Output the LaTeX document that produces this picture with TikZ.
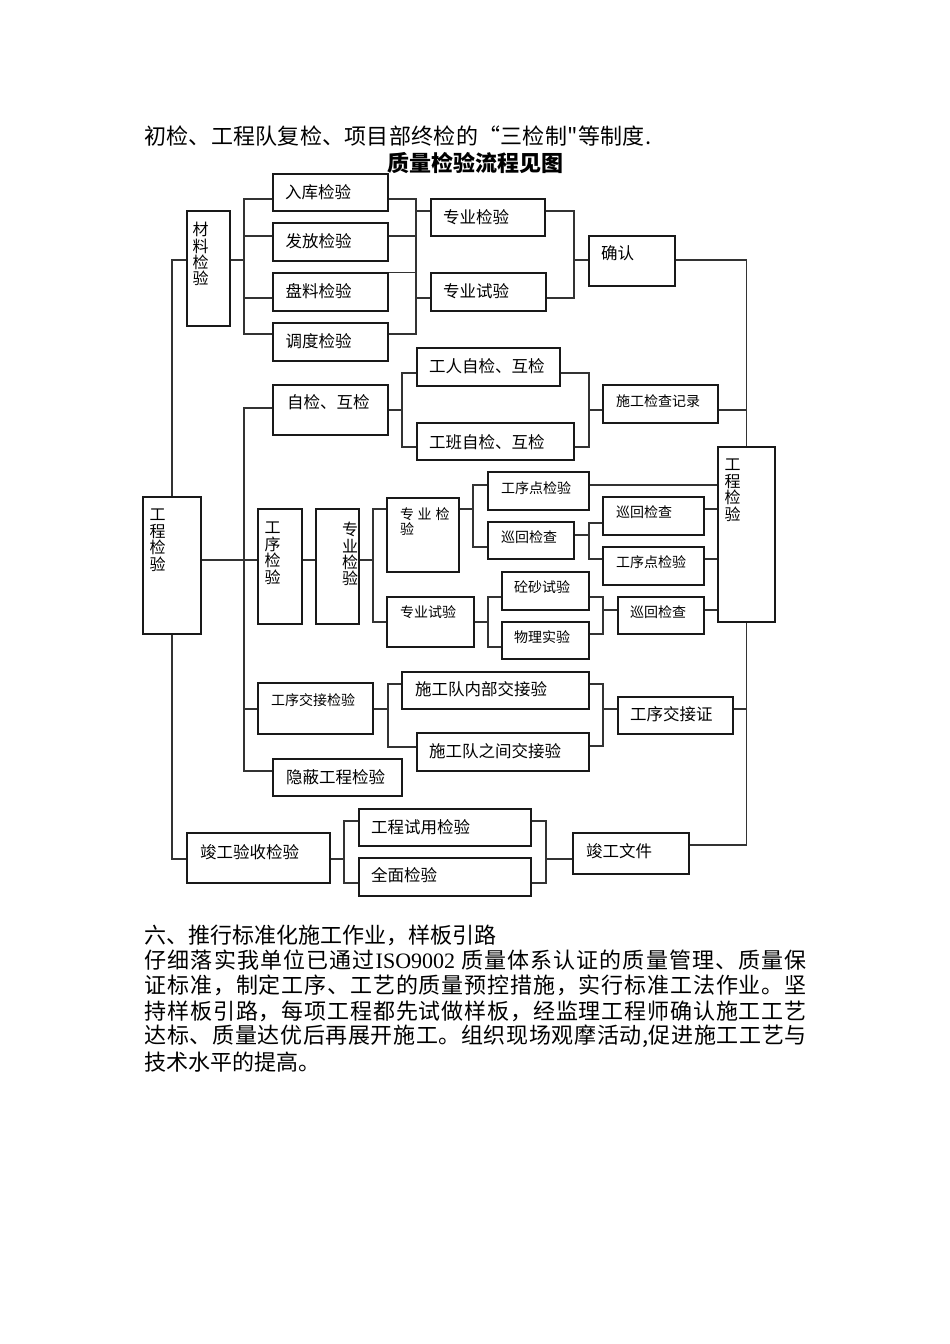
\documentclass[tikz,border=0pt]{standalone}
\usepackage{fontspec}
\setmainfont{Liberation Serif}
\newfontfamily\cjk{Noto Sans CJK SC}
\usetikzlibrary{fit}
\def\spreadend{spreadend-marker}
\def\isotext{{\rmfamily ISO9002}\hskip 5pt}
\def\spreaditer#1{\ifx\spreadend#1\unskip\else#1\hskip0pt plus 1fil\expandafter\spreaditer\fi}
\begin{document}
\begin{tikzpicture}[x=1pt,y=-1pt,
  box/.style={draw=black!90, line width=1.5pt, inner sep=0pt},
  conn/.style={draw=black!80, line width=1.2pt},
  lbl/.style={anchor=west, inner sep=0pt, font=\cjk\fontsize{16.5}{18}\selectfont},
  slbl/.style={anchor=west, inner sep=0pt, font=\cjk\fontsize{14}{16}\selectfont},
  vlbl/.style={anchor=north, inner sep=0pt, align=center, font=\cjk\fontsize{16}{16.4}\selectfont},
  body/.style={anchor=west, inner sep=0pt, font=\cjk\fontsize{22}{25.4}\selectfont}]
\fill[white] (0,0) rectangle (950,1344);
\useasboundingbox (0,0) rectangle (950,1344);

% bus coordinates
\coordinate (bA) at (244,0);
\coordinate (bB) at (416,0);
\coordinate (bC) at (574,0);
\coordinate (bD) at (402,0);
\coordinate (bE) at (589,0);
\coordinate (bF) at (373,0);
\coordinate (bG) at (473,0);
\coordinate (bH) at (488,0);
\coordinate (bI) at (603,0);
\coordinate (bJ) at (388,0);
\coordinate (bK) at (344,0);
\coordinate (bM) at (546,0);

% texts
\node[body] (top) at (144,136.5) {\hbox to 507pt{\spreaditer 初检、工程队复检、项目部终检的“三检制"等制度.\spreadend}};
\node[inner sep=0pt, font=\cjk\bfseries\fontsize{22}{24}\selectfont] (title) at (475,163) {质量检验流程见图};

% boxes
\node[box, fit={(187,211) (230,326)}] (cl) {};
\node[box, fit={(273,174) (388,211)}] (rk) {};
\node[box, fit={(273,223) (388,261)}] (ff) {};
\node[box, fit={(273,273) (388,311)}] (pl) {};
\node[box, fit={(273,323) (388,361)}] (dd) {};
\node[box, fit={(431,199) (545,236)}] (zj1) {};
\node[box, fit={(431,273) (546,311)}] (zs1) {};
\node[box, fit={(589,236) (675,286)}] (qr) {};
\node[box, fit={(417,348) (560,386)}] (gr) {};
\node[box, fit={(273,385) (388,435)}] (zh) {};
\node[box, fit={(603,385) (718,423)}] (jl) {};
\node[box, fit={(417,423) (574,460)}] (gb) {};
\node[box, fit={(718,447) (775,622)}] (gjR) {};
\node[box, fit={(143,497) (201,634)}] (gjL) {};
\node[box, fit={(258,509) (302,624)}] (gx) {};
\node[box, fit={(316,509) (359,624)}] (zjV) {};
\node[box, fit={(387,498) (459,572)}] (zj2) {};
\node[box, fit={(488,472) (589,510)}] (gd1) {};
\node[box, fit={(488,522) (574,559)}] (xh1) {};
\node[box, fit={(603,497) (704,535)}] (xh2) {};
\node[box, fit={(603,547) (704,585)}] (gd2) {};
\node[box, fit={(502,572) (589,610)}] (ts) {};
\node[box, fit={(387,597) (474,647)}] (zs2) {};
\node[box, fit={(618,597) (704,634)}] (xh3) {};
\node[box, fit={(502,622) (589,659)}] (wl) {};
\node[box, fit={(402,672) (589,709)}] (nb) {};
\node[box, fit={(258,683) (373,734)}] (jj) {};
\node[box, fit={(618,697) (733,734)}] (jz) {};
\node[box, fit={(417,733) (589,771)}] (zj) {};
\node[box, fit={(273,759) (402,796)}] (yb) {};
\node[box, fit={(359,809) (531,846)}] (sy) {};
\node[box, fit={(187,833) (330,883)}] (jy) {};
\node[box, fit={(573,833) (689,874)}] (wj) {};
\node[box, fit={(359,858) (531,896)}] (qm) {};

% box labels
\node[vlbl] (clt) at (200.5,222) {材\\料\\检\\验};
\node[lbl] (rkt) at (285,192) {入库检验};
\node[lbl] (fft) at (285.5,241) {发放检验};
\node[lbl] (plt) at (285.5,291) {盘料检验};
\node[lbl] (ddt) at (285.5,341) {调度检验};
\node[lbl] (zj1t) at (443,217) {专业检验};
\node[lbl] (zs1t) at (443,291) {专业试验};
\node[lbl] (qrt) at (601,253) {确认};
\node[lbl] (grt) at (429,366) {工人自检、互检};
\node[lbl] (zht) at (287,402) {自检、互检};
\node[slbl] (jlt) at (616,401) {施工检查记录};
\node[lbl] (gbt) at (429,442) {工班自检、互检};
\node[vlbl] (gjRt) at (732.5,459) {工\\程\\检\\验};
\node[vlbl] (gjLt) at (157.5,509) {工\\程\\检\\验};
\node[vlbl] (gxt) at (272.5,522) {工\\序\\检\\验};
\node[vlbl] (zjVt) at (350,522) {专\\业\\检\\验};
\node[anchor=north west, inner sep=0pt, align=left, font=\cjk\fontsize{14}{15.5}\selectfont] (zj2t) at (400,507) {专\hspace{3.5pt}业\hspace{4pt}检\\验};
\node[slbl] (gd1t) at (501,488) {工序点检验};
\node[slbl] (xh1t) at (501,537) {巡回检查};
\node[slbl] (xh2t) at (616,512) {巡回检查};
\node[slbl] (gd2t) at (616,562) {工序点检验};
\node[slbl] (tst) at (514,587) {砼砂试验};
\node[slbl] (wlt) at (514,637) {物理实验};
\node[slbl] (xh3t) at (630,612) {巡回检查};
\node[slbl] (zs2t) at (400,612) {专业试验};
\node[slbl] (jjt) at (271,700) {工序交接检验};
\node[lbl] (nbt) at (415,689) {施工队内部交接验};
\node[lbl] (zjt) at (429,751) {施工队之间交接验};
\node[lbl] (ybt) at (286,777) {隐蔽工程检验};
\node[lbl] (jzt) at (630,714) {工序交接证};
\node[lbl] (syt) at (371,827) {工程试用检验};
\node[lbl] (qmt) at (371,875) {全面检验};
\node[lbl] (jyt) at (200,852) {竣工验收检验};
\node[lbl] (wjt) at (586,851) {竣工文件};

% connectors
% main left line
\draw[conn] (cl.west |- 0,260) -| (gjL.north);
\draw[conn] (gjL.south) |- (jy.west |- 0,859);
% material group
\draw[conn] (cl.east |- 0,260) -- (bA |- 0,260);
\draw[conn] (rk.west |- 0,199) -| (bA |- 0,334) -- (dd.west |- 0,334);
\draw[conn] (ff.west |- 0,236) -- (bA |- 0,236);
\draw[conn] (pl.west |- 0,298) -- (bA |- 0,298);
\draw[conn] (rk.east |- 0,199) -| (bB |- 0,334) -- (dd.east |- 0,334);
\draw[conn] (ff.east |- 0,236) -- (bB |- 0,236);
\draw[conn] (pl.north east) -- (bB |- pl.north east);
\draw[conn] (zj1.west |- 0,211) -- (bB |- 0,211);
\draw[conn] (zs1.west |- 0,298) -- (bB |- 0,298);
\draw[conn] (zj1.east |- 0,211) -| (bC |- 0,298) -- (zs1.east |- 0,298);
\draw[conn] (qr.west |- 0,260) -- (bC |- 0,260);
\draw[conn] (qr.east |- 0,260) -| (gjR.north);
\draw[conn] (jl.east |- 0,410) -- (gjR.north |- 0,410);
% process group
\draw[conn] (zh.west |- 0,408) -| (bA |- 0,771) -- (yb.west |- 0,771);
\draw[conn] (gjL.east |- 0,560) -- (gx.west |- 0,560);
\draw[conn] (jj.west |- 0,709) -- (bA |- 0,709);
\draw[conn] (zh.east |- 0,410) -- (bD |- 0,410);
\draw[conn] (gr.west |- 0,373) -| (bD |- 0,447) -- (gb.west |- 0,447);
\draw[conn] (gr.east |- 0,373) -| (bE |- 0,447) -- (gb.east |- 0,447);
\draw[conn] (jl.west |- 0,410) -- (bE |- 0,410);
\draw[conn] (gx.east |- 0,560) -- (zjV.west |- 0,560);
\draw[conn] (zjV.east |- 0,560) -- (bF |- 0,560);
\draw[conn] (zj2.west |- 0,509) -| (bF |- 0,622) -- (zs2.west |- 0,622);
\draw[conn] (zj2.east |- 0,509) -- (bG |- 0,509);
\draw[conn] (gd1.west |- 0,485) -| (bG |- 0,547) -- (xh1.west |- 0,547);
\draw[conn] (gd1.east |- 0,485) -- (gjR.west |- 0,485);
\draw[conn] (xh1.east |- 0,535) -- (bE |- 0,535);
\draw[conn] (xh2.west |- 0,523) -| (bE |- 0,559) -- (gd2.west |- 0,559);
\draw[conn] (xh2.east |- 0,509) -- (gjR.west |- 0,509);
\draw[conn] (gd2.east |- 0,559) -- (gjR.west |- 0,559);
\draw[conn] (zs2.east |- 0,622) -- (bH |- 0,622);
\draw[conn] (ts.west |- 0,597) -| (bH |- 0,647) -- (wl.west |- 0,647);
\draw[conn] (ts.east |- 0,597) -| (bI |- 0,634) -- (wl.east |- 0,634);
\draw[conn] (xh3.west |- 0,610) -- (bI |- 0,610);
\draw[conn] (xh3.east |- 0,610) -- (gjR.west |- 0,610);
\draw[conn] (gjR.south) |- (wj.east |- 0,845);
\draw[conn] (jz.east |- 0,709) -- (gjR.south |- 0,709);
\draw[conn] (jj.east |- 0,709) -- (bJ |- 0,709);
\draw[conn] (nb.west |- 0,684) -| (bJ |- 0,747) -- (zj.west |- 0,747);
\draw[conn] (nb.east |- 0,684) -| (bI |- 0,746) -- (zj.east |- 0,746);
\draw[conn] (jz.west |- 0,709) -- (bI |- 0,709);
% completion group
\draw[conn] (jy.east |- 0,859) -- (bK |- 0,859);
\draw[conn] (sy.west |- 0,821) -| (bK |- 0,883) -- (qm.west |- 0,883);
\draw[conn] (sy.east |- 0,821) -| (bM |- 0,883) -- (qm.east |- 0,883);
\draw[conn] (wj.west |- 0,859) -- (bM |- 0,859);

% body text
\node[body] (p1) at (144.5,935) {六、推行标准化施工作业，样板引路};
\node[body] (p2) at (144.5,960.4) {\hbox to 662pt{\spreaditer 仔细落实我单位已通过\isotext 质量体系认证的质量管理、质量保\spreadend}};
\node[body] (p3) at (144.5,985.8) {\hbox to 662pt{\spreaditer 证标准，制定工序、工艺的质量预控措施，实行标准工法作业。坚\spreadend}};
\node[body] (p4) at (144.5,1011.2) {\hbox to 662pt{\spreaditer 持样板引路，每项工程都先试做样板，经监理工程师确认施工工艺\spreadend}};
\node[body] (p5) at (144.5,1036.6) {\hbox to 662pt{\spreaditer 达标、质量达优后再展开施工。组织现场观摩活动,促进施工工艺与\spreadend}};
\node[body] (p6) at (144.5,1062) {技术水平的提高。};
\end{tikzpicture}
\end{document}
